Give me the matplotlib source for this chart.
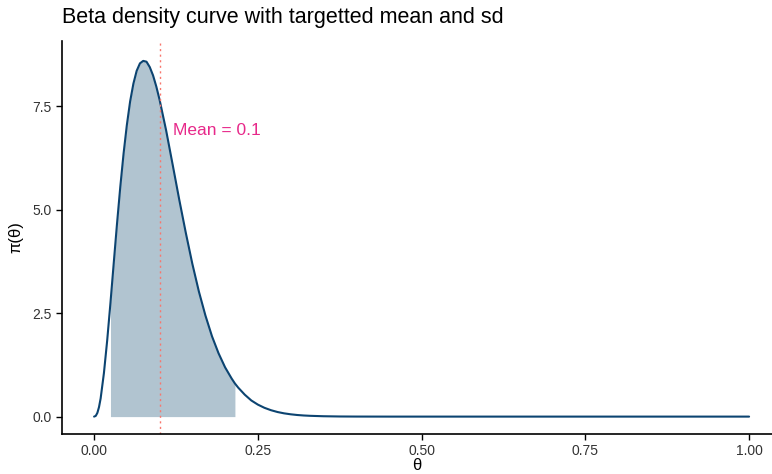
import numpy as np
import matplotlib
matplotlib.use("Agg")
import matplotlib.pyplot as plt

# density values
theta = [0.0, 0.0025, 0.005, 0.0075, 0.01, 0.015, 0.02, 0.025, 0.03, 0.035,
         0.04, 0.045, 0.05, 0.055, 0.06, 0.065, 0.07, 0.075, 0.08, 0.085,
         0.09, 0.095, 0.10, 0.11, 0.12, 0.13, 0.14, 0.15, 0.16, 0.17,
         0.18, 0.19, 0.20, 0.21, 0.215, 0.22, 0.23, 0.24, 0.25, 0.26,
         0.27, 0.28, 0.29, 0.30, 0.31, 0.32, 0.33, 0.35, 0.375, 0.40,
         0.45, 0.50, 0.75, 1.00]
dens = [0.0, 0.017, 0.09, 0.23, 0.44, 1.05, 1.84, 2.75, 3.71, 4.66,
        5.55, 6.35, 7.04, 7.61, 8.04, 8.35, 8.53, 8.59, 8.57, 8.44,
        8.24, 7.97, 7.65, 6.91, 6.08, 5.24, 4.44, 3.69, 3.02, 2.44,
        1.94, 1.53, 1.19, 0.92, 0.80, 0.70, 0.53, 0.39, 0.29, 0.213,
        0.155, 0.111, 0.079, 0.056, 0.039, 0.027, 0.019, 0.009, 0.003, 0.001,
        0.0, 0.0, 0.0, 0.0]

mean_val = 0.1
shade_lo, shade_hi = 0.025, 0.215

theta = np.array(theta)
dens = np.array(dens)

plt.rcParams['font.family'] = ['Liberation Sans', 'DejaVu Sans']

fig = plt.figure(figsize=(7.72, 4.74), dpi=100)
ax = fig.add_axes([62/772, 1 - 434/474, 1 - 62/772, (434 - 41)/474])

mask = (theta >= shade_lo) & (theta <= shade_hi)
ax.fill_between(theta[mask], 0, dens[mask], color='#b1c4d0', lw=0)
ax.plot(theta, dens, color='#0c4471', lw=1.5, solid_capstyle='round',
        solid_joinstyle='round')
ax.axvline(mean_val, color='#f8766d', lw=1, ls=(0, (1.5, 2.5)))
ax.text(0.12, 6.9, 'Mean = 0.1', color='#e7298a', fontsize=12.5,
        ha='left', va='center')

ax.set_xlim(-0.049, 1.035)
ax.set_ylim(-0.42, 9.07)
ax.set_xticks([0, 0.25, 0.5, 0.75, 1.0])
ax.set_xticklabels(['0.00', '0.25', '0.50', '0.75', '1.00'])
ax.set_yticks([0, 2.5, 5.0, 7.5])
ax.set_yticklabels(['0.0', '2.5', '5.0', '7.5'])
ax.tick_params(labelsize=10, colors='black', labelcolor='#333333',
               length=4, width=1)

for s in ['top', 'right']:
    ax.spines[s].set_visible(False)
for s in ['left', 'bottom']:
    ax.spines[s].set_linewidth(1.2)

ax.set_xlabel('θ', fontsize=12, labelpad=0)
ax.set_ylabel('π(θ)', fontsize=12, labelpad=6)
fig.text(62/772, 1 - 18/474, 'Beta density curve with targetted mean and sd',
         fontsize=15.5, ha='left', va='center')

fig.savefig('out.png', dpi=100)
